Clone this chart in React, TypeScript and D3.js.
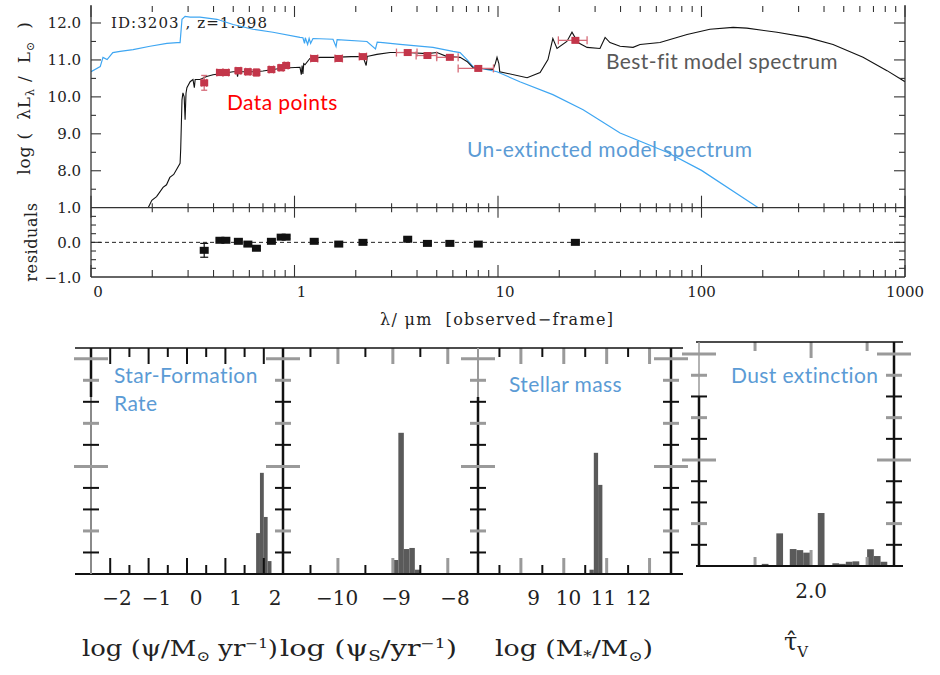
import React from "react";
import * as d3 from "d3";

// ---------------- DATA ----------------
const bestFitSpectrum: [number, number][] = [
  [0.191, 7.0], [0.199, 7.2], [0.21, 7.3], [0.226, 7.55], [0.235, 7.62], [0.244, 7.82], [0.255, 7.9], [0.274, 8.2], [0.276, 8.6],
  [0.28, 9.92], [0.283, 10.11], [0.287, 10.0], [0.29, 9.38], [0.293, 10.1], [0.296, 10.25],
  [0.307, 10.41], [0.317, 10.47], [0.322, 10.25], [0.325, 10.47], [0.33, 10.47], [0.343, 10.47],
  [0.37, 10.55], [0.398, 10.6], [0.45, 10.64], [0.499, 10.68], [0.52, 10.68], [0.525, 10.55],
  [0.53, 10.68], [0.55, 10.68], [0.625, 10.68], [0.65, 10.69], [0.655, 10.58], [0.66, 10.69],
  [0.7, 10.7], [0.784, 10.74], [0.88, 10.78], [0.95, 10.79], [1.064, 10.8], [1.08, 10.6],
  [1.09, 10.85], [1.1, 10.62], [1.11, 10.9], [1.126, 10.87], [1.19, 11.04], [1.335, 11.07],
  [1.546, 11.07], [1.9, 11.09], [2.17, 11.09], [2.25, 10.85], [2.28, 11.1], [2.3, 11.1],
  [2.54, 11.15], [2.95, 11.2], [3.57, 11.2], [4.48, 11.17], [5.01, 11.2], [5.62, 11.09],
  [6.51, 11.07], [7.04, 10.96], [7.54, 10.79], [9.45, 10.74], [9.7, 10.9], [9.89, 11.07],
  [10.1, 10.9], [10.2, 10.68], [13.9, 10.52], [16.1, 10.66], [17.6, 11.01], [18.6, 11.58],
  [19.5, 11.31], [21.8, 11.5], [23.1, 11.75], [24.7, 11.47], [27.4, 11.34], [31.7, 11.31],
  [33.6, 11.61], [35.5, 11.47], [39.8, 11.37], [46.1, 11.34], [49.9, 11.42], [62.5, 11.47],
  [84.9, 11.69], [110, 11.83], [143, 11.88], [167, 11.86], [235, 11.75], [330, 11.61],
  [443, 11.42], [622, 11.07], [816, 10.71], [1000, 10.41],
];

const unextinctedSpectrum: [number, number][] = [
  [0.1, 10.68], [0.111, 10.82], [0.1145, 11.07], [0.12, 11.01], [0.128, 11.2], [0.139, 11.23],
  [0.161, 11.28], [0.195, 11.37], [0.236, 11.45], [0.265, 11.47], [0.274, 11.47], [0.28, 12.1],
  [0.29, 12.18], [0.307, 12.16], [0.343, 12.16], [0.416, 12.1], [0.499, 11.96], [0.625, 11.83],
  [0.784, 11.75], [1.064, 11.61], [1.1, 11.6], [1.12, 11.45], [1.13, 11.6], [1.16, 11.42],
  [1.18, 11.58], [1.2, 11.45], [1.233, 11.58], [1.546, 11.56], [1.6, 11.36], [1.62, 11.55],
  [2.27, 11.5], [2.5, 11.3], [2.55, 11.48], [2.72, 11.47], [3.3, 11.42], [4.79, 11.34],
  [6.01, 11.23], [6.51, 11.2], [7.04, 11.01], [7.54, 10.82], [9.89, 10.68], [12.8, 10.41],
  [18.6, 10.06], [26.2, 9.65], [39.8, 9.02], [67.7, 8.5], [100, 8.01], [190, 7.0],
];

const photLam = [0.36, 0.43, 0.46, 0.53, 0.59, 0.65, 0.77, 0.86, 0.91, 1.25, 1.65, 2.17, 3.6, 4.5, 5.8, 8.0, 24];
const photLamLo = [0.35, 0.415, 0.445, 0.515, 0.575, 0.63, 0.75, 0.84, 0.89, 1.2, 1.58, 2.08, 3.17, 3.96, 5.0, 6.37, 19.8];
const photLamHi = [0.37, 0.445, 0.475, 0.545, 0.605, 0.67, 0.79, 0.88, 0.93, 1.3, 1.72, 2.26, 4.0, 4.99, 6.37, 9.5, 27.4];
const photLogL = [10.38, 10.66, 10.66, 10.71, 10.68, 10.66, 10.74, 10.79, 10.85, 11.04, 11.04, 11.09, 11.2, 11.12, 11.07, 10.77, 11.53];
const photErr = [0.2, 0.08, 0.08, 0.08, 0.08, 0.1, 0.08, 0.08, 0.08, 0.06, 0.06, 0.06, 0.05, 0.05, 0.05, 0.05, 0.06];
const residuals = [-0.23, 0.06, 0.06, 0.03, -0.05, -0.17, 0.03, 0.15, 0.15, 0.03, -0.05, 0.0, 0.09, -0.03, -0.03, -0.05, 0.0];
const residErr = [0.2, 0.04, 0.04, 0.04, 0.05, 0.05, 0.04, 0.04, 0.04, 0.04, 0.05, 0.04, 0.04, 0.04, 0.04, 0.05, 0.03];

const specYTicks = [8, 9, 10, 11, 12];
const specYTickLabels = ["8.0", "9.0", "10.0", "11.0", "12.0"];
const residYTicks = [1, 0, -1];
const residYTickLabels = ["1.0", "0.0", "\u22121.0"];
const lamTicks = [0.1, 1, 10, 100, 1000];
const lamTickLabels = ["0", "1", "10", "100", "1000"];

const sfrCenters = [1.85, 1.95, 2.05, 2.15];
const sfrProb = [0.19, 0.47, 0.265, 0.06];
const sfrTicks = [-2, -1, 0, 1, 2];
const sfrTickLabels = ["\u22122", "\u22121", "0", "1", "2"];

const ssfrCenters = [-8.95, -8.85, -8.75, -8.65, -8.55];
const ssfrProb = [0.065, 0.656, 0.116, 0.121, 0.02];
const ssfrTicks = [-10, -9, -8];
const ssfrTickLabels = ["\u221210", "\u22129", "\u22128"];

const massCenters = [10.65, 10.75, 10.85];
const massProb = [0.02, 0.563, 0.414];
const massTicks = [9, 10, 11, 12];
const massTickLabels = ["9", "10", "11", "12"];

const tauCenters = [1.59, 1.72, 1.84, 1.9, 1.96, 2.09, 2.22, 2.28, 2.34, 2.4, 2.53, 2.59, 2.65];
const tauProb = [0.01, 0.154, 0.08, 0.075, 0.063, 0.25, 0.013, 0.01, 0.02, 0.022, 0.079, 0.047, 0.02];
const tauTicks = [2.0];
const tauTickLabels = ["2.0"];

const probTicks = [0.1, 0.2, 0.3, 0.4, 0.5, 0.6, 0.7, 0.8, 0.9, 1.0];
const probGrayTicks = [0.2, 0.5, 0.7, 0.9, 1.0];

// ---------------- LAYOUT ----------------
const W = 940;
const H = 675;
const SERIF = "'DejaVu Serif', 'Liberation Serif', serif";
const SANS = "Lato, 'Open Sans', sans-serif";
const BLUE_TXT = "#5b9bd5";

const X0 = 91, X1 = 905, Y0 = 6, YM = 207.7, YB = 277;

export default function App() {
  const x = d3.scaleLog().domain([0.1, 1000]).range([X0, X1]);
  const y = d3.scaleLinear().domain([7, 12.46]).range([YM, Y0]);
  const yr = d3.scaleLinear().domain([-1, 1]).range([YB, YM]);

  const line = d3.line<[number, number]>().x((d) => x(d[0])).y((d) => y(d[1]));

  const logTicks: { v: number; major: boolean }[] = [];
  [0.1, 1, 10, 100].forEach((d) => {
    for (let k = 1; k <= 9; k++) logTicks.push({ v: d * k, major: k === 1 });
  });
  logTicks.push({ v: 1000, major: true });

  const halfTicks = d3.range(7.5, 12.01, 0.5);
  const residMinor = [-0.75, -0.5, -0.25, 0.25, 0.5, 0.75];

  const axisCol = "#333";

  const panels = [
    { left: 91, right: 283, top: 348, bottom: 574, dom: [-2.5, 2.5], labDom: [-2.66, 2.2], centers: sfrCenters, prob: sfrProb, w: 0.1, ticks: d3.range(-2, 2.01, 0.5), lab: sfrTicks, labTxt: sfrTickLabels, ymax: 1.05, tickGray: false },
    { left: 283, right: 478, top: 348, bottom: 574, dom: [-11, -7.45], labDom: [-10.92, -7.61], centers: ssfrCenters, prob: ssfrProb, w: 0.1, ticks: d3.range(-10.5, -7.99, 0.5), lab: ssfrTicks, labTxt: ssfrTickLabels, ymax: 1.05, tickGray: true },
    { left: 478, right: 671, top: 348, bottom: 574, dom: [8, 12.5], labDom: [7.4, 12.94], centers: massCenters, prob: massProb, w: 0.1, ticks: d3.range(8.5, 12.01, 0.5), lab: massTicks, labTxt: massTickLabels, ymax: 1.05, tickGray: true },
    { left: 699, right: 894, top: 342, bottom: 566, dom: [1.0, 2.74], labDom: [1.0, 2.74], centers: tauCenters, prob: tauProb, w: 0.06, ticks: [1.5, 2.0, 2.5], lab: tauTicks, labTxt: tauTickLabels, ymax: 1.057, tickGray: true },
  ];

  const renderPanel = (p: any, i: number) => {
    const px = d3.scaleLinear().domain(p.dom).range([p.left, p.right]);
    const pl = d3.scaleLinear().domain(p.labDom).range([p.left, p.right]);
    const py = d3.scaleLinear().domain([0, p.ymax]).range([p.bottom, p.top]);
    return (
      <g key={i}>
        {p.centers.map((c: number, j: number) => (
          <rect key={j} x={px(c - p.w / 2)} y={py(p.prob[j])} width={px(c + p.w / 2) - px(c - p.w / 2)} height={p.bottom - py(p.prob[j])} fill="#5a5a5a" />
        ))}
        {p.ticks.map((t: number, j: number) => {
          const major = Math.abs(t - Math.round(t)) < 1e-6;
          const gray = p.tickGray ? major || i === 3 : false;
          const len = major ? 16 : 9;
          return (
            <g key={"t" + j} stroke={gray ? "#9a9a9a" : "#111"} strokeWidth={gray ? 3 : 2}>
              <line x1={px(t)} x2={px(t)} y1={p.bottom} y2={p.bottom - len} />
              <line x1={px(t)} x2={px(t)} y1={p.top} y2={p.top + len} />
            </g>
          );
        })}
        {p.lab.map((t: number, j: number) => (
          <text key={"l" + j} x={pl(t)} y={i === 3 ? 598 : 605} textAnchor="middle" fontFamily={SERIF} fontSize={20} fill="#222">
            {p.labTxt[j]}
          </text>
        ))}
      </g>
    );
  };

  const vAxisTicks = (xv: number, py: (v: number) => number, key: string) =>
    probTicks.map((t, j) => {
      const gray = probGrayTicks.includes(t);
      const long = t === 0.5 || t === 1.0;
      const len = long ? 17 : 8;
      return (
        <line key={key + j} x1={xv - len} x2={xv + len} y1={py(t)} y2={py(t)} stroke={gray ? "#9a9a9a" : "#111"} strokeWidth={gray ? 3 : 2} />
      );
    });

  const pyA = d3.scaleLinear().domain([0, 1.05]).range([574, 348]);
  const pyB = d3.scaleLinear().domain([0, 1.057]).range([566, 342]);

  const annot = { fontFamily: SANS, fontSize: 21, letterSpacing: 0.4 } as any;

  return (
    <svg width={W} height={H} style={{ position: "absolute", left: 0, top: 0, background: "#fff" }}>
      <defs>
        <clipPath id="specClip">
          <rect x={X0} y={Y0 - 6} width={X1 - X0} height={YM - Y0 + 6} />
        </clipPath>
      </defs>
      <rect x={0} y={0} width={W} height={H} fill="#fff" />

      {/* ======== SPECTRUM PANEL ======== */}
      <text x={111} y={28} fontFamily={SERIF} fontSize={15} fill="#222" textLength={156}>
        ID:3203 , z=1.998
      </text>

      <g clipPath="url(#specClip)" fill="none">
        <path d={line(unextinctedSpectrum) || ""} stroke="#3ea6f2" strokeWidth={1.2} />
        <path d={line(bestFitSpectrum) || ""} stroke="#111" strokeWidth={1.1} />
      </g>

      <g>
        {photLam.map((l, i) => {
          const cx = x(l);
          const cy = y(photLogL[i]);
          const xl = x(photLamLo[i]);
          const xh = x(photLamHi[i]);
          const yl = y(photLogL[i] - photErr[i]);
          const yh = y(photLogL[i] + photErr[i]);
          return (
            <g key={i} stroke="#d56b78" strokeWidth={1.3}>
              <line x1={xl} x2={xh} y1={cy} y2={cy} />
              <line x1={xl} x2={xl} y1={cy - 4} y2={cy + 4} />
              <line x1={xh} x2={xh} y1={cy - 4} y2={cy + 4} />
              <line x1={cx} x2={cx} y1={yl} y2={yh} />
              <line x1={cx - 3} x2={cx + 3} y1={yl} y2={yl} />
              <line x1={cx - 3} x2={cx + 3} y1={yh} y2={yh} />
              <rect x={cx - 4} y={cy - 3.5} width={8} height={7} fill="#c3364a" stroke="none" />
            </g>
          );
        })}
      </g>

      <g stroke={axisCol} strokeWidth={1.3} fill="none">
        <line x1={X0} x2={X0} y1={Y0 - 1} y2={YB} />
        <line x1={X1} x2={X1} y1={Y0 - 1} y2={YB} />
        <line x1={X0} x2={X1} y1={YM} y2={YM} />
        <line x1={X0} x2={X1} y1={YB} y2={YB} />
      </g>
      <g stroke={axisCol} strokeWidth={1.1}>
        {logTicks.map((t, i) => {
          const xx = x(t.v);
          const L = t.major ? 11 : 6;
          return (
            <g key={i}>
              <line x1={xx} x2={xx} y1={Y0} y2={Y0 + L} />
              <line x1={xx} x2={xx} y1={YM - (t.major ? 12 : 4.5)} y2={YM + (t.major ? 10 : 4.5)} />
              <line x1={xx} x2={xx} y1={YB} y2={YB - (t.major ? 12 : 7)} />
            </g>
          );
        })}
        {halfTicks.map((v, i) => {
          const major = Math.abs(v - Math.round(v)) < 1e-6;
          const L = major ? 10 : 5;
          return (
            <g key={"h" + i}>
              <line x1={X0} x2={X0 + L} y1={y(v)} y2={y(v)} />
              <line x1={X1} x2={X1 - L - 1} y1={y(v)} y2={y(v)} />
            </g>
          );
        })}
        {residMinor.concat([0]).map((v, i) => {
          const L = v === 0 ? 10 : 5;
          return (
            <g key={"r" + i}>
              <line x1={X0} x2={X0 + L} y1={yr(v)} y2={yr(v)} />
              <line x1={X1} x2={X1 - L - 1} y1={yr(v)} y2={yr(v)} />
            </g>
          );
        })}
      </g>

      <g fontFamily={SERIF} fontSize={15} fill="#222">
        {specYTicks.map((v, i) => (
          <text key={i} x={81} y={y(v) + 5.5} textAnchor="end">{specYTickLabels[i]}</text>
        ))}
        {residYTicks.map((v, i) => (
          <text key={"r" + i} x={81} y={yr(v) + 5.5} textAnchor="end">{residYTickLabels[i]}</text>
        ))}
        {lamTicks.map((v, i) => (
          <text key={"x" + i} x={x(v) + (v < 100 ? 7 : 0)} y={297} textAnchor="middle">{lamTickLabels[i]}</text>
        ))}
      </g>

      <line x1={X0} x2={X1} y1={yr(0)} y2={yr(0)} stroke="#222" strokeWidth={1} strokeDasharray="4 3" />
      <g>
        {photLam.map((l, i) => {
          const cx = x(l);
          const cy = yr(residuals[i]);
          const yl = yr(residuals[i] - residErr[i]);
          const yh = yr(residuals[i] + residErr[i]);
          return (
            <g key={i} stroke="#111" strokeWidth={1.2}>
              <line x1={cx} x2={cx} y1={yl} y2={yh} />
              <line x1={cx - 4} x2={cx + 4} y1={yl} y2={yl} />
              <line x1={cx - 4} x2={cx + 4} y1={yh} y2={yh} />
              <rect x={cx - 4.5} y={cy - 3.5} width={9} height={7} fill="#111" stroke="none" />
            </g>
          );
        })}
      </g>

      {/* axis titles */}
      <text transform="translate(30,98) rotate(-90)" textAnchor="middle" fontFamily={SERIF} fontSize={17} fill="#222" letterSpacing={0.8} xmlSpace="preserve">
        log (  λL<tspan dy={4} fontSize={11}>λ</tspan><tspan dy={-4}> /  L</tspan><tspan dy={4} fontSize={11}>⊙</tspan><tspan dy={-4}>  )</tspan>
      </text>
      <text transform="translate(37,242) rotate(-90)" textAnchor="middle" fontFamily={SERIF} fontSize={16} fill="#222" letterSpacing={0.6}>
        residuals
      </text>
      <text x={380} y={325} fontFamily={SERIF} fontSize={16} fill="#222" textLength={233} xmlSpace="preserve">
        λ/ μm  [observed−frame]
      </text>

      {/* annotations */}
      <text x={227} y={110} {...annot} fill="#ff0000">Data points</text>
      <text x={606} y={69} {...annot} fill="#595959">Best-fit model spectrum</text>
      <text x={467} y={157} {...annot} fill={BLUE_TXT}>Un-extincted model spectrum</text>

      {/* ======== HISTOGRAM PANELS ======== */}
      {panels.map(renderPanel)}

      <g stroke="#111" fill="none">
        <line x1={75} x2={683} y1={348} y2={348} strokeWidth={1.6} />
        <line x1={75} x2={683} y1={574} y2={574} strokeWidth={2} />
        <line x1={696} x2={903} y1={342} y2={342} strokeWidth={1.6} />
        <line x1={696} x2={903} y1={566} y2={566} strokeWidth={2} />
        <line x1={91} x2={91} y1={348} y2={397} strokeWidth={2.5} />
        <line x1={91} x2={91} y1={397} y2={574} strokeWidth={2} stroke="#8a8a8a" />
        <line x1={283} x2={283} y1={348} y2={574} strokeWidth={2.5} />
        <line x1={478} x2={478} y1={348} y2={397} strokeWidth={2} stroke="#9a9a9a" />
        <line x1={478} x2={478} y1={397} y2={574} strokeWidth={2.5} />
        <line x1={671} x2={671} y1={348} y2={574} strokeWidth={2.5} />
        <line x1={699} x2={699} y1={342} y2={397} strokeWidth={1.5} stroke="#9a9a9a" />
        <line x1={699} x2={699} y1={397} y2={566} strokeWidth={2.5} />
        <line x1={894} x2={894} y1={342} y2={566} strokeWidth={2.5} />
      </g>
      {vAxisTicks(91, pyA, "a")}
      {vAxisTicks(283, pyA, "b")}
      {vAxisTicks(478, pyA, "c")}
      {vAxisTicks(671, pyA, "d")}
      {vAxisTicks(699, pyB, "e")}
      {vAxisTicks(894, pyB, "f")}

      {/* panel titles */}
      <text {...annot} fill={BLUE_TXT}>
        <tspan x={114} y={383}>Star-Formation</tspan>
        <tspan x={114} y={411}>Rate</tspan>
      </text>
      <text x={509} y={392} {...annot} fill={BLUE_TXT}>Stellar mass</text>
      <text x={731} y={383} {...annot} fill={BLUE_TXT}>Dust extinction</text>

      {/* bottom axis titles */}
      <g fontFamily={SERIF} fontSize={22} fill="#222">
        <text x={82} y={656} textLength={196} lengthAdjust="spacingAndGlyphs">
          log (ψ/M<tspan dy={5} fontSize={14}>⊙</tspan><tspan dy={-5}> yr</tspan><tspan dy={-8} fontSize={13}>−1</tspan><tspan dy={8}>)</tspan>
        </text>
        <text x={280} y={656} textLength={177} lengthAdjust="spacingAndGlyphs">
          log (ψ<tspan dy={5} fontSize={14}>S</tspan><tspan dy={-5}>/yr</tspan><tspan dy={-8} fontSize={13}>−1</tspan><tspan dy={8}>)</tspan>
        </text>
        <text x={495} y={656} textLength={158} lengthAdjust="spacingAndGlyphs">
          log (M<tspan dy={5} fontSize={14}>*</tspan><tspan dy={-5}>/M</tspan><tspan dy={5} fontSize={14}>⊙</tspan><tspan dy={-5}>)</tspan>
        </text>
        <text x={784} y={650} fontSize={24}>
          τ̂<tspan dy={7} fontSize={15}>V</tspan>
        </text>
      </g>
    </svg>
  );
}
